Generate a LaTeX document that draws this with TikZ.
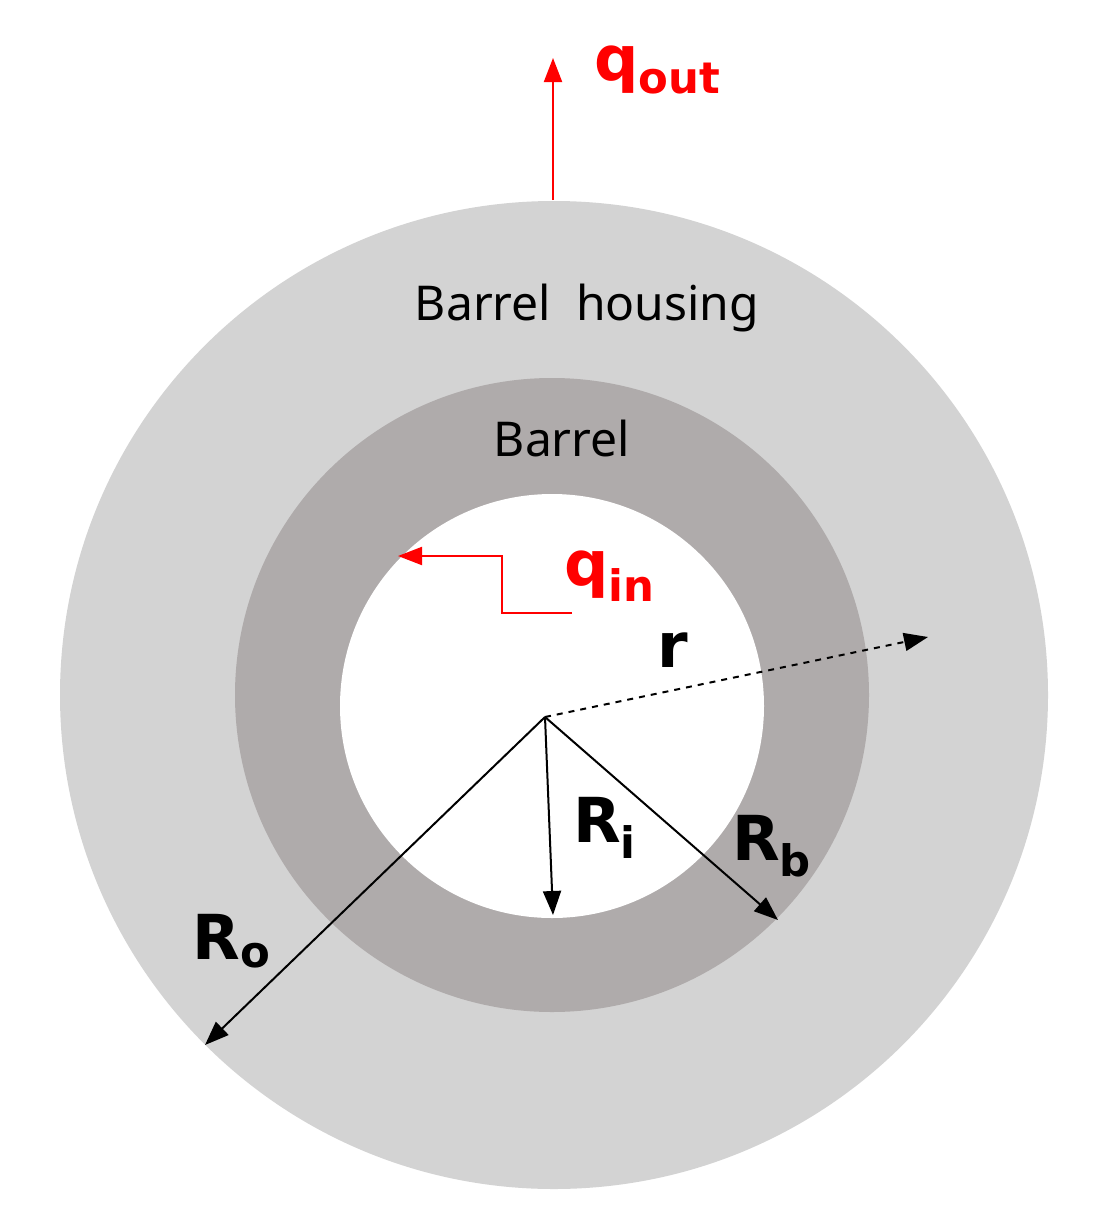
\documentclass[tikz,border=0pt]{standalone}
\usetikzlibrary{arrows.meta}
\usepackage{fontspec}
\setmainfont{Noto Sans}
\newfontfamily\symfont{DejaVu Sans}
\definecolor{housing}{RGB}{211,211,211}
\definecolor{barrel}{RGB}{175,171,171}
\definecolor{qred}{RGB}{255,0,0}
\begin{document}
\begin{tikzpicture}[x=0.5pt,y=-0.5pt,
  lbl/.style={font=\fontsize{24}{28}\selectfont},
  sym/.style={font=\symfont\bfseries\fontsize{31}{35}\selectfont},
  arr/.style={-{Triangle[length=12pt,width=9pt]},line width=1pt}]
\useasboundingbox (0,0) rectangle (1100,1231);
\fill[housing] (554,695) circle (494);
\fill[barrel] (552,695) circle (317);
\fill[white] (552,706) circle (212);
\coordinate (c) at (545,717);
\coordinate (qo0) at (553,200);
\coordinate (qo1) at (553,58);
\draw[arr,qred] (qo0) -- (qo1);
\node[sym,qred] (qout) at (658,70) {q\textsubscript{out}};
\node[lbl] (housingT) at (587,308) {Barrel\ \ housing};
\node[lbl] (barrelT) at (562,438) {Barrel};
\coordinate (qi0) at (572,613);
\coordinate (qi1) at (398,556);
\draw[arr,qred] (qi0) -- (502,613) -- (502,556) -- (qi1);
\node[sym,qred] (qin) at (610,576) {q\textsubscript{in}};
\coordinate (rend) at (928,637);
\draw[arr,dashed] (c) -- (rend);
\node[sym] (r) at (673,650) {r};
\coordinate (ri) at (553,915);
\draw[arr] (c) -- (ri);
\node[sym] (Ri) at (605,828) {R\textsubscript{i}};
\coordinate (rb) at (778,920);
\draw[arr] (c) -- (rb);
\node[sym] (Rb) at (772,846) {R\textsubscript{b}};
\coordinate (ro) at (205,1045);
\draw[arr] (c) -- (ro);
\node[sym] (Ro) at (232,941) {R\textsubscript{o}};
\end{tikzpicture}
\end{document}
